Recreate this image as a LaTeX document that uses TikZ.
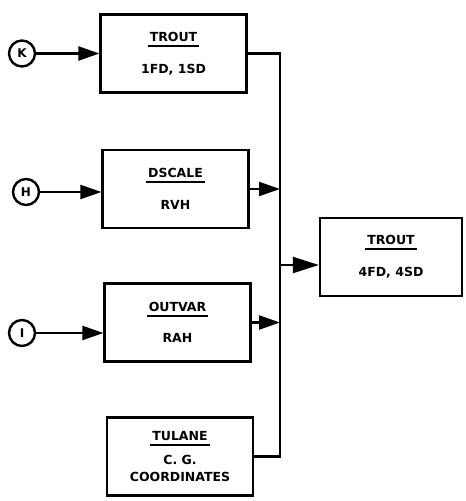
\documentclass[tikz,border=0pt]{standalone}
\usepackage{fontspec}
\setmainfont{DejaVu Sans}
\usetikzlibrary{arrows.meta}
\newcommand{\prgtitle}[1]{\setbox0=\hbox{#1}\hbox to 0pt{\kern-2pt\vrule height -3.5pt depth 5.5pt width \dimexpr\wd0+4pt\relax\hss}\box0}

\begin{document}
\begin{tikzpicture}[x=1pt, y=-1pt, line width=2.2pt, >={Triangle[length=21pt, width=14pt]},
  prog/.style={draw, minimum width=146pt, minimum height=78pt, align=center, font=\bfseries\fontsize{12.5}{14}\selectfont},
  tape/.style={draw, circle, minimum size=26pt, inner sep=0pt, line width=2.4pt, font=\bfseries\fontsize{12}{14}\selectfont}]
  \useasboundingbox (0,0) rectangle (466,501);
  % program boxes
  \node[prog] (trouta) at (173.5,53.5) {\prgtitle{TROUT}\\[16pt] 1FD, 1SD};
  \node[prog] (dscale) at (175.5,189) {\prgtitle{DSCALE}\\[16pt] RVH};
  \node[prog] (outvar) at (177.5,322.5) {\prgtitle{OUTVAR}\\[16pt] RAH};
  \node[prog] (tulane) at (180,456.5) {\prgtitle{TULANE}\\[8pt] C. G.\\[3pt] COORDINATES};
  \node[prog, minimum width=142pt] (troutb) at (391,257) {\prgtitle{TROUT}\\[16pt] 4FD, 4SD};
  % input tapes
  \node[tape] (k) at (22,53.5) {K};
  \node[tape] (h) at (26,192) {H};
  \node[tape] (i) at (22,333) {I};
  \draw[->] (k) -- (trouta);
  \draw[->] (h) -- (h -| dscale.west);
  \draw[->] (i) -- (i -| outvar.west);
  % collecting line
  \coordinate (bus) at (280,0);
  \coordinate (tap) at (280,265);
  \draw (trouta.east) -| (bus |- tulane.east) -- (tulane.east);
  \draw[->] (dscale.east) -- (bus |- dscale.east);
  \draw[->] (outvar.east) -- (bus |- outvar.east);
  \draw[-{Triangle[length=26pt, width=16pt]}] (tap) -- (tap -| troutb.west);
\end{tikzpicture}
\end{document}
